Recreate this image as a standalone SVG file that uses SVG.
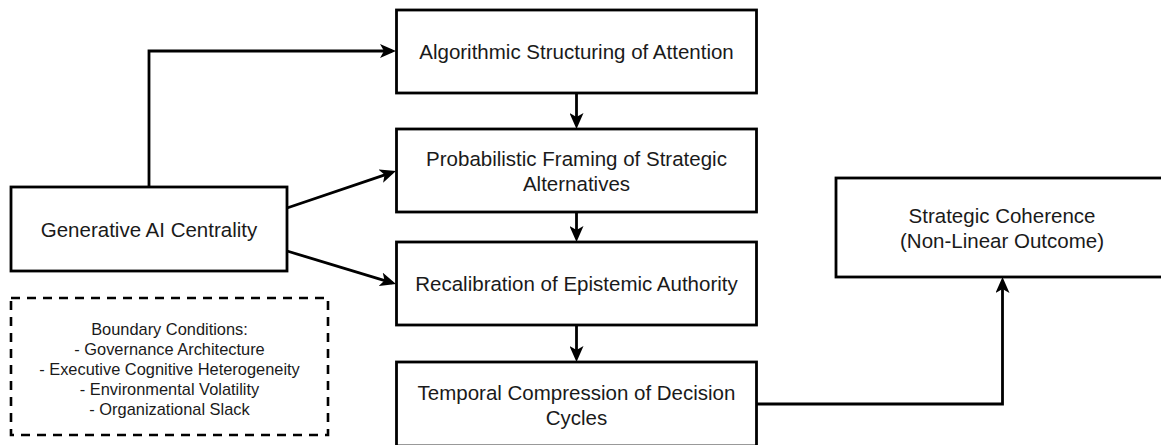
<svg xmlns="http://www.w3.org/2000/svg" width="1161" height="445" viewBox="0 0 1161 445">
<style>
.box{fill:#fff;stroke:#000;stroke-width:2.8}
.dash{fill:none;stroke:#000;stroke-width:2.6;stroke-dasharray:9 7}
.t{font-family:"Liberation Sans",Arial,sans-serif;font-size:20.5px;fill:#1a1a1a;text-anchor:middle}
.s{font-family:"Liberation Sans",Arial,sans-serif;font-size:16.4px;fill:#1a1a1a;text-anchor:middle}
.c{fill:none;stroke:#000;stroke-width:2.8}
</style>
<defs>
<marker id="ah" viewBox="0 0 16 14" refX="12" refY="7" markerWidth="16" markerHeight="14" markerUnits="userSpaceOnUse" orient="auto">
<path d="M0,0 L16,7 L0,14 L4,7 Z" fill="#000"/>
</marker>
</defs>
<rect width="1161" height="445" fill="#fff"/>
<g id="connectors">
<path class="c" d="M149,187 V51 H392" marker-end="url(#ah)"/>
<path class="c" d="M287,208 L392.2,172.3" marker-end="url(#ah)"/>
<path class="c" d="M287,251 L392.2,282.8" marker-end="url(#ah)"/>
<path class="c" d="M576.5,93 V125" marker-end="url(#ah)"/>
<path class="c" d="M576.5,212 V238" marker-end="url(#ah)"/>
<path class="c" d="M576.5,325 V358" marker-end="url(#ah)"/>
<path class="c" d="M756,404 H1002.5 V281" marker-end="url(#ah)"/>
</g>
<g id="generative">
<rect class="box" x="11" y="187" width="276" height="84"/>
<text class="t" x="149" y="236.5">Generative AI Centrality</text>
</g>
<g id="algorithmic">
<rect class="box" x="396.5" y="10" width="360" height="83"/>
<text class="t" x="576.5" y="59">Algorithmic Structuring of Attention</text>
</g>
<g id="probabilistic">
<rect class="box" x="396.5" y="129" width="360" height="83"/>
<text class="t" x="576.5" y="166">Probabilistic Framing of Strategic</text>
<text class="t" x="576.5" y="191">Alternatives</text>
</g>
<g id="recalibration">
<rect class="box" x="396.5" y="242" width="360" height="83"/>
<text class="t" x="576.5" y="291">Recalibration of Epistemic Authority</text>
</g>
<g id="temporal">
<rect class="box" x="396.5" y="362" width="360" height="84"/>
<text class="t" x="576.5" y="400">Temporal Compression of Decision</text>
<text class="t" x="576.5" y="425">Cycles</text>
</g>
<g id="coherence">
<rect class="box" x="836" y="178" width="334" height="99"/>
<text class="t" x="1002" y="223">Strategic Coherence</text>
<text class="t" x="1002" y="248">(Non-Linear Outcome)</text>
</g>
<g id="boundary">
<rect class="dash" x="11" y="298" width="317" height="137"/>
<text class="s" x="169.5" y="335">Boundary Conditions:</text>
<text class="s" x="169.5" y="355">- Governance Architecture</text>
<text class="s" x="169.5" y="375">- Executive Cognitive Heterogeneity</text>
<text class="s" x="169.5" y="395">- Environmental Volatility</text>
<text class="s" x="169.5" y="415">- Organizational Slack</text>
</g>
</svg>
